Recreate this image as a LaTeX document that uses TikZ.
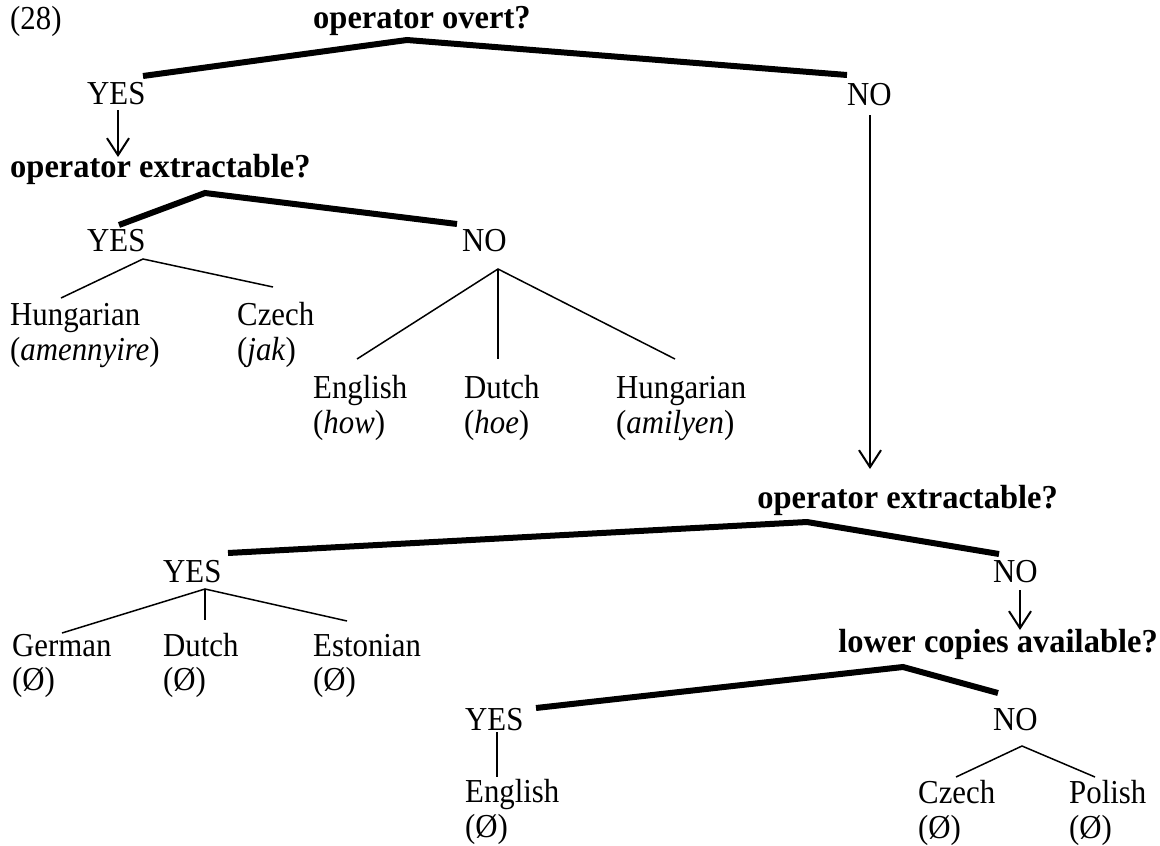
\documentclass[tikz,border=0pt]{standalone}
\usepackage{fontspec}
\setmainfont{Liberation Serif}[FakeStretch=0.92,BoldFeatures={FakeStretch=0.97}]
\usetikzlibrary{arrows.meta}
\begin{document}
\begin{tikzpicture}[x=1pt,y=-1pt,
  lbl/.style={anchor=base west,inner sep=0pt,font=\fontsize{33.5}{35}\selectfont},
  lble/.style={anchor=base east,inner sep=0pt,font=\fontsize{33.5}{35}\selectfont\bfseries},
  q/.style={lbl,font=\fontsize{33.5}{35}\selectfont\bfseries},
  heavy/.style={line width=6pt,line join=miter},
  light/.style={line width=1.5pt},
  down/.style={line width=2pt,-{Straight Barb[length=17pt,width=22pt]}}]
\useasboundingbox (0,0) rectangle (1160,846);
% texts
\node[lbl] (n28) at (10,29) {(28)};
\node[q] (q1) at (313,28) {operator overt?};
\node[lbl] (yes1) at (87,104) {YES};
\node[lbl] (no1) at (847,105) {NO};
\node[q] (q2) at (10,177) {operator extractable?};
\node[lbl] (yes2) at (87,251) {YES};
\node[lbl] (no2) at (462,251) {NO};
\node[lbl] (hu1) at (10,325) {Hungarian};
\node[lbl] (hu1g) at (10,360) {(\textit{amennyire})};
\node[lbl] (cz1) at (237,325) {Czech};
\node[lbl] (cz1g) at (237,360) {(\textit{jak})};
\node[lbl] (en1) at (313,398) {English};
\node[lbl] (en1g) at (313,433) {(\textit{how})};
\node[lbl] (du1) at (464,398) {Dutch};
\node[lbl] (du1g) at (464,433) {(\textit{hoe})};
\node[lbl] (hu2) at (616,398) {Hungarian};
\node[lbl] (hu2g) at (616,433) {(\textit{amilyen})};
\node[lble] (q3) at (1058,508) {operator extractable?};
\node[lbl] (yes3) at (163,582) {YES};
\node[lbl] (no3) at (993,582) {NO};
\node[lble] (q4) at (1158,652) {lower copies available?};
\node[lbl] (ge) at (12,656) {German};
\node[lbl] (geg) at (12,690) {(Ø)};
\node[lbl] (du2) at (163,656) {Dutch};
\node[lbl] (du2g) at (163,690) {(Ø)};
\node[lbl] (es) at (313,656) {Estonian};
\node[lbl] (esg) at (313,690) {(Ø)};
\node[lbl] (yes4) at (465,730) {YES};
\node[lbl] (en2) at (465,802) {English};
\node[lbl] (en2g) at (465,837) {(Ø)};
\node[lbl] (no4) at (993,730) {NO};
\node[lbl] (cz2) at (918,803) {Czech};
\node[lbl] (cz2g) at (918,838) {(Ø)};
\node[lbl] (pl) at (1069,803) {Polish};
\node[lbl] (plg) at (1069,838) {(Ø)};
% coordinates
\coordinate (a1) at (407,40);
\coordinate (y1t) at (143,76);
\coordinate (n1t) at (847,75);
\coordinate (a2) at (205,193);
\coordinate (y2t) at (119,225);
\coordinate (n2t) at (457,224);
\coordinate (a3) at (807,522);
\coordinate (y3t) at (228,553);
\coordinate (n3t) at (999,554);
\coordinate (a4) at (903,667);
\coordinate (y4t) at (536,708);
\coordinate (n4t) at (998,693);
\coordinate (y2b) at (143,259);
\coordinate (hu1t) at (61,298);
\coordinate (cz1t) at (273,287);
\coordinate (n2b) at (498,269);
\coordinate (en1t) at (357,359);
\coordinate (du1t) at (498,359);
\coordinate (hu2t) at (675,359);
\coordinate (y3b) at (205,589);
\coordinate (get) at (62,633);
\coordinate (du2t) at (205,620);
\coordinate (est) at (347,621);
\coordinate (y4b) at (497,732);
\coordinate (en2t) at (497,777);
\coordinate (n4b) at (1022,746);
\coordinate (cz2t) at (956,777);
\coordinate (plt) at (1095,777);
\coordinate (y1b) at (118,110);
\coordinate (q2t) at (118,157);
\coordinate (n1b) at (870,115);
\coordinate (q3t) at (870,469);
\coordinate (n3b) at (1020,590);
\coordinate (q4t) at (1020,630);
% heavy branches
\draw[heavy] (y1t) -- (a1) -- (n1t);
\draw[heavy] (y2t) -- (a2) -- (n2t);
\draw[heavy] (y3t) -- (a3) -- (n3t);
\draw[heavy] (y4t) -- (a4) -- (n4t);
% light branches
\draw[light] (hu1t) -- (y2b) -- (cz1t);
\draw[light] (en1t) -- (n2b) -- (hu2t);
\draw[light] (n2b) -- (du1t);
\draw[light] (get) -- (y3b) -- (est);
\draw[light] (y3b) -- (du2t);
\draw[light] (y4b) -- (en2t);
\draw[light] (cz2t) -- (n4b) -- (plt);
% arrows
\draw[down] (y1b) -- (q2t);
\draw[down] (n1b) -- (q3t);
\draw[down] (n3b) -- (q4t);
\end{tikzpicture}
\end{document}
